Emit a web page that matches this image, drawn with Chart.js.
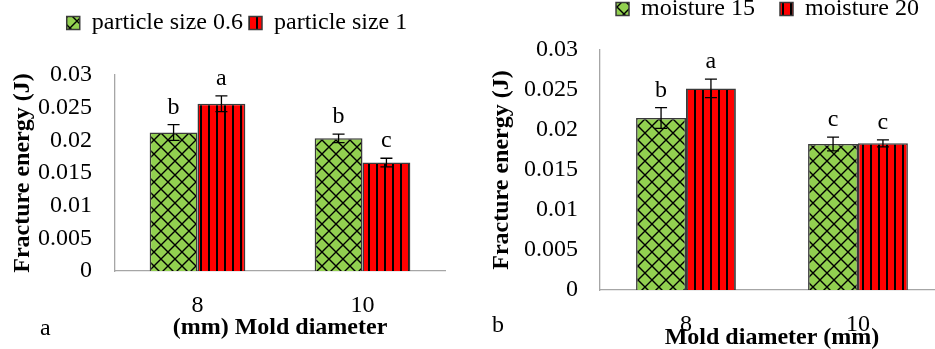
<!DOCTYPE html>
<html>
<head>
<meta charset="utf-8">
<script src="https://cdn.jsdelivr.net/npm/chart.js"></script>
<style>
  html, body { margin: 0; padding: 0; background: #fff; }
  body { position: relative; width: 935px; height: 349px; overflow: hidden; }
  canvas { position: absolute; }
  #chartA { left: 0; top: 0; }
  #chartB { left: 470px; top: -28px; }
  .panel { position: absolute; font: 24px "Liberation Serif", serif; line-height: 24px; color: #000; }
</style>
</head>
<body>
<canvas id="chartA" width="470" height="349"></canvas>
<canvas id="chartB" width="474" height="385"></canvas>
<div class="panel" style="left:40px; top:315px;">a</div>
<div class="panel" style="left:492px; top:312px;">b</div>
<script>
// mold diameters (mm)
const diameters = ["8", "10"];
const yTickLabels = ["0", "0.005", "0.01", "0.015", "0.02", "0.025", "0.03"];

// panel a: particle size
const size06 = [0.0212, 0.0203];
const size06Err = [0.0012, 0.00066];
const size06Letters = ["b", "b"];
const size1 = [0.0256, 0.0166];
const size1Err = [0.0012, 0.00066];
const size1Letters = ["a", "c"];

// panel b: moisture
const moist15 = [0.0215, 0.01825];
const moist15Err = [0.0013, 0.00085];
const moist15Letters = ["b", "c"];
const moist20 = [0.0252, 0.01833];
const moist20Err = [0.00115, 0.00044];
const moist20Letters = ["a", "c"];

const fontFamily = '"Liberation Serif", "Times New Roman", serif';
Chart.defaults.font.family = fontFamily;
Chart.defaults.font.size = 24;
Chart.defaults.color = "#000";

function latticePattern() {
  let c = document.createElement("canvas");
  c.width = 14;
  c.height = 14;
  let g = c.getContext("2d");
  g.fillStyle = "#92D050";
  g.fillRect(0, 0, 14, 14);
  g.strokeStyle = "#000";
  g.lineWidth = 1.4;
  g.beginPath();
  g.moveTo(0, 0);
  g.lineTo(14, 14);
  g.moveTo(14, 0);
  g.lineTo(0, 14);
  g.stroke();
  return g.createPattern(c, "repeat");
}

function stripePattern() {
  let c = document.createElement("canvas");
  c.width = 8;
  c.height = 8;
  let g = c.getContext("2d");
  g.fillStyle = "#FF0000";
  g.fillRect(0, 0, 8, 8);
  g.fillStyle = "#000";
  g.fillRect(0, 0, 2, 8);
  return g.createPattern(c, "repeat");
}

// whiskers and significance letters above each bar
const errorBars = {
  id: "errorBars",
  afterDatasetsDraw(chart) {
    let ctx = chart.ctx;
    let yScale = chart.scales.y;
    chart.data.datasets.forEach(function (ds, i) {
      let meta = chart.getDatasetMeta(i);
      meta.data.forEach(function (bar, j) {
        let hi = yScale.getPixelForValue(ds.data[j] + ds.errors[j]);
        let lo = yScale.getPixelForValue(ds.data[j] - ds.errors[j]);
        ctx.save();
        ctx.strokeStyle = "#000";
        ctx.lineWidth = 1.3;
        ctx.beginPath();
        ctx.moveTo(bar.x, hi);
        ctx.lineTo(bar.x, lo);
        ctx.moveTo(bar.x - 6, hi);
        ctx.lineTo(bar.x + 6, hi);
        ctx.moveTo(bar.x - 6, lo);
        ctx.lineTo(bar.x + 6, lo);
        ctx.stroke();
        ctx.fillStyle = "#000";
        ctx.font = "24px " + fontFamily;
        ctx.textAlign = "center";
        ctx.textBaseline = "alphabetic";
        ctx.fillText(ds.letters[j], bar.x, hi - 11);
        ctx.restore();
      });
    });
  },
};

function legendSpace(height) {
  return {
    id: "legendSpace",
    beforeInit(chart) {
      let fit = chart.legend.fit;
      chart.legend.fit = function () {
        fit.call(this);
        this.height = height;
      };
    },
  };
}

function drawPanel(id, names, series, errors, letters, box) {
  let ctx = document.getElementById(id).getContext("2d");
  let fills = [latticePattern(), stripePattern()];
  let datasets = names.map(function (name, i) {
    return {
      label: name,
      data: series[i],
      errors: errors[i],
      letters: letters[i],
      backgroundColor: fills[i],
      borderColor: "#3a3a3a",
      borderWidth: 1.5,
      categoryPercentage: 0.58,
      barPercentage: 1.0,
    };
  });
  return new Chart(ctx, {
    type: "bar",
    data: { labels: diameters, datasets: datasets },
    options: {
      responsive: false,
      animation: false,
      devicePixelRatio: 1,
      layout: { padding: box.padding },
      plugins: {
        tooltip: { enabled: false },
        legend: {
          position: "top",
          align: box.legendAlign,
          labels: { boxWidth: 13, boxHeight: 13, padding: box.legendPad, font: { size: 24 } },
        },
      },
      scales: {
        x: {
          grid: { display: false, drawTicks: false },
          border: { display: true, color: "#a6a6a6", width: 1.3 },
          ticks: { padding: box.xTickPad, maxRotation: 0 },
          title: {
            display: true,
            text: box.xTitle,
            font: { size: 24, weight: "bold" },
            padding: { top: 0, bottom: box.xTitlePad },
          },
          afterFit: function (scale) {
            scale.height = box.xHeight;
          },
        },
        y: {
          min: 0,
          max: 0.03,
          grid: { display: false, drawTicks: false },
          border: { display: true, color: "#a6a6a6", width: 1.3 },
          ticks: {
            stepSize: 0.005,
            padding: box.yTickPad,
            callback: function (value, index) {
              return yTickLabels[index];
            },
          },
          title: {
            display: true,
            text: "Fracture energy (J)",
            font: { size: 24, weight: "bold" },
            padding: { top: box.yTitlePad, bottom: 0 },
          },
          afterFit: function (scale) {
            scale.width = box.yWidth;
          },
        },
      },
    },
    plugins: [errorBars, legendSpace(box.legendHeight)],
  });
}

drawPanel(
  "chartA",
  ["particle size 0.6", "particle size 1"],
  [size06, size1],
  [size06Err, size1Err],
  [size06Letters, size1Letters],
  {
    padding: { left: 29, right: 25, top: 5, bottom: 0 },
    legendAlign: "center",
    legendPad: 6,
    legendHeight: 70,
    xTitle: "(mm) Mold diameter",
    xHeight: 78,
    xTickPad: 20,
    xTitlePad: 6.6,
    yWidth: 86,
    yTickPad: 23,
    yTitlePad: -20.4,
  }
);

drawPanel(
  "chartB",
  ["moisture 15", "moisture 20"],
  [moist15, moist20],
  [moist15Err, moist20Err],
  [moist15Letters, moist20Letters],
  {
    padding: { left: 0, right: 0, top: 0, bottom: 0 },
    legendAlign: "end",
    legendPad: 25,
    legendHeight: 78,
    xTitle: "Mold diameter (mm)",
    xHeight: 67,
    xTickPad: 20.6,
    xTitlePad: 4.6,
    yWidth: 130,
    yTickPad: 22,
    yTitlePad: 17.6,
  }
);
</script>
</body>
</html>
